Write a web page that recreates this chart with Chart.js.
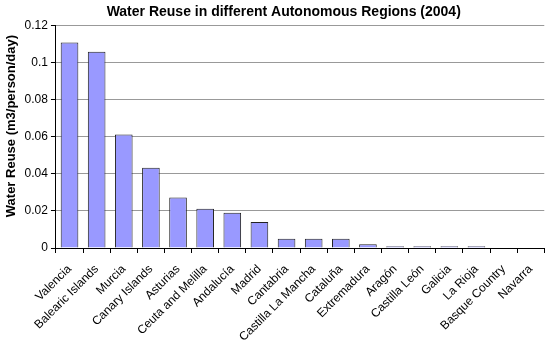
<!DOCTYPE html>
<html><head><meta charset="utf-8">
<script src="https://cdn.jsdelivr.net/npm/chart.js@4/dist/chart.umd.min.js"></script>
<style>html,body{margin:0;padding:0;background:#fff}#wrap{width:550px;height:342px}</style>
</head><body><div id="wrap"><canvas id="c"></canvas></div>
<script>
const categories = ["Valencia","Balearic Islands","Murcia","Canary Islands","Asturias","Ceuta and Melilla","Andalucía","Madrid","Cantabria","Castilla La Mancha","Cataluña","Extremadura","Aragón","Castilla León","Galicia","La Rioja","Basque Country","Navarra"];
const reuse = [0.111,0.106,0.0613,0.0433,0.0273,0.0212,0.0191,0.014,0.005,0.005,0.005,0.002,0.001,0.001,0.001,0.001,0,0];
const yTicks = [0,0.02,0.04,0.06,0.08,0.1,0.12];
const FONT = "'Liberation Sans', Arial, sans-serif";
new Chart(document.getElementById('c'), {
  type: 'bar',
  data: { labels: categories, datasets: [{ data: reuse, backgroundColor: '#9999ff', borderColor: '#222', borderWidth: 1, barPercentage: 0.65, categoryPercentage: 1 }] },
  options: {
    responsive: true, maintainAspectRatio: false, animation: false,
    layout: { padding: { top: 1, right: 4, left: 2, bottom: 0 } },
    plugins: {
      legend: { display: false }, tooltip: { enabled: false },
      title: { display: true, text: '     Water Reuse in different Autonomous Regions (2004)', color: '#000', font: { family: FONT, size: 14, weight: 'bold' }, padding: { top: 3, bottom: 5 } }
    },
    scales: {
      x: {
        offset: true,
        afterFit: (ax) => { ax.height = 94; },
        grid: { offset: true, drawOnChartArea: false, color: '#000', tickLength: 5, tickColor: '#000' },
        border: { color: '#000' },
        ticks: { maxRotation: 45, minRotation: 45, autoSkip: false, color: '#000', font: { family: FONT, size: 12 }, padding: 9 }
      },
      y: {
        min: 0, max: 0.12,
        afterBuildTicks: (ax) => { ax.ticks = yTicks.map(v => ({ value: v })); },
        grid: { color: '#999', tickColor: '#000', tickLength: 5 },
        border: { color: '#000' },
        ticks: { color: '#000', font: { family: FONT, size: 12 }, padding: 3, callback: (v) => String(parseFloat(Number(v).toFixed(2))) },
        title: { display: true, text: '      Water Reuse (m3/person/day)', color: '#000', font: { family: FONT, size: 13, weight: 'bold' }, padding: 2 }
      }
    }
  }
});
</script></body></html>
